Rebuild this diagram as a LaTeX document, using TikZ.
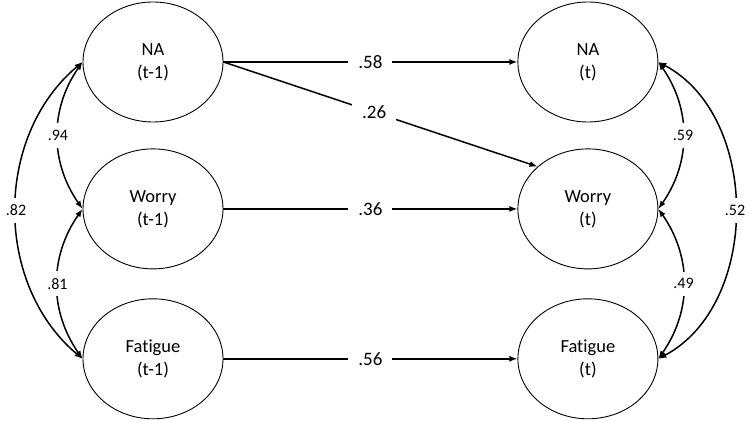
\documentclass[tikz,border=0pt]{standalone}
\usepackage{fontspec}
\setmainfont{Carlito}[Ligatures=NoCommon]
\usetikzlibrary{arrows.meta,positioning,shapes.geometric}
\tikzset{
  lat/.style={draw,ellipse,line width=0.9pt,minimum width=140pt,minimum height=120pt,
    inner sep=0pt,align=center,font=\fontsize{18.5}{23}\selectfont},
  ar/.style={-{Latex[length=8pt,width=6pt]},line width=1.5pt},
  cov/.style={{Latex[length=8pt,width=6pt]}-{Latex[length=8pt,width=6pt]},line width=1.5pt},
  wlab/.style={fill=white,inner xsep=10pt,inner ysep=3pt,font=\fontsize{19}{22}\selectfont},
  clab/.style={fill=white,inner xsep=2pt,inner ysep=7pt,font=\fontsize{16}{18}\selectfont},
}
\begin{document}
\begin{tikzpicture}[x=1pt,y=1pt]
  \useasboundingbox (0,0) rectangle (749,420);

  % time t-1
  \node[lat] (nl) at (153,358) {NA\\(t-1)};
  \node[lat, below=26pt of nl] (wl) {Worry\\(t-1)};
  \node[lat, below=29pt of wl] (fl) {Fatigue\\(t-1)};

  % time t
  \node[lat, right=294pt of nl] (nr) {NA\\(t)};
  \node[lat, right=294pt of wl] (wr) {Worry\\(t)};
  \node[lat, right=294pt of fl] (fr) {Fatigue\\(t)};

  % paths
  \draw[ar] (nl.east) -- node[wlab]{.58} (nr.west);
  \draw[ar] (nl.east) -- node[wlab,pos=0.48]{.26} (wr.140);
  \draw[ar] (wl.east) -- node[wlab]{.36} (wr.west);
  \draw[ar] (fl.east) -- node[wlab]{.56} (fr.west);

  % correlations
  \draw[cov] (nl.west) to[bend right=35] node[clab]{.94} (wl.west);
  \draw[cov] (wl.west) to[bend right=35] node[clab]{.81} (fl.west);
  \draw[cov] (nl.west) to[bend right=50] node[clab]{.82} (fl.west);
  \draw[cov] (nr.east) to[bend left=35] node[clab]{.59} (wr.east);
  \draw[cov] (wr.east) to[bend left=35] node[clab]{.49} (fr.east);
  \draw[cov] (nr.east) to[bend left=62] node[clab]{.52} (fr.east);
\end{tikzpicture}
\end{document}
